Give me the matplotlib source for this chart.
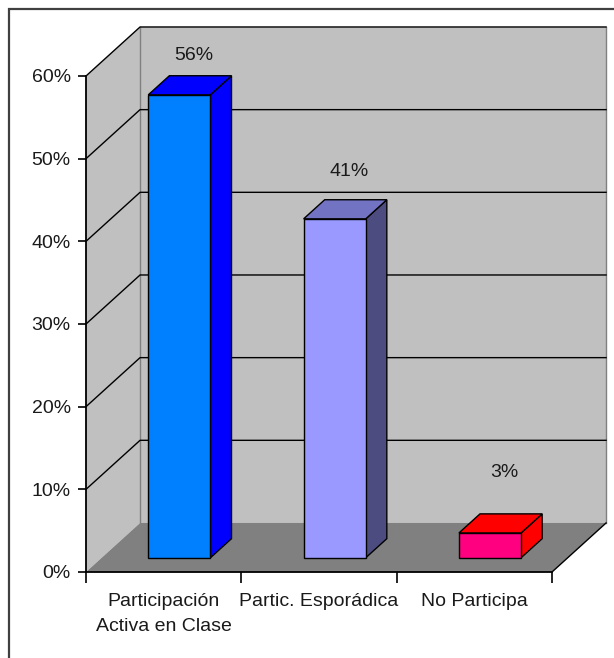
import matplotlib.pyplot as plt
from matplotlib.patches import Polygon, Rectangle
from matplotlib.ticker import FixedLocator, FuncFormatter

plt.rcParams['font.family'] = ['Liberation Sans', 'DejaVu Sans']

# Datos
categorias = ['Participación\nActiva en Clase', 'Partic. Esporádica', 'No Participa']
porcentajes = [56, 41, 3]
colores_frente = ['#0080FF', '#9999FF', '#FF0080']
colores_arriba = ['#0000FF', '#7373C4', '#FF0000']
colores_lado = ['#0000FF', '#4C4C80', '#FF0000']
ticks_y = [0, 10, 20, 30, 40, 50, 60]

# Proyeccion de profundidad (estilo grafico 3D de Excel)
prof_x = 0.348
prof_y = 5.93
f0, f1 = 0.29, 0.68
ancho = 0.40
ymax = 60
n = len(categorias)
# altura de cada etiqueta sobre su barra
sobre_barra = [6.5, 7.4, 9.0]

fig = plt.figure(figsize=(6.14, 6.58), dpi=100)
fig.patch.set_facecolor('white')
ax = fig.add_axes([86 / 614, 86 / 658, 466 / 614, 496 / 658])
ax.set_xlim(0, n)
ax.set_ylim(0, ymax)
ax.set_facecolor('none')

# marco exterior
fig.add_artist(Rectangle((9 / 614, -0.1), 1.2, 1.1 - 9 / 658, transform=fig.transFigure,
                         fill=False, edgecolor='#404040', lw=1.6))

# pared lateral, pared trasera y piso
ax.add_patch(Polygon([(0, 0), (prof_x, prof_y), (prof_x, ymax + prof_y), (0, ymax)],
                     closed=True, facecolor='#C0C0C0', edgecolor='none', clip_on=False, zorder=1))
ax.add_patch(Polygon([(prof_x, prof_y), (n + prof_x, prof_y), (n + prof_x, ymax + prof_y),
                      (prof_x, ymax + prof_y)],
                     closed=True, facecolor='#C0C0C0', edgecolor='none', clip_on=False, zorder=1))
ax.add_patch(Polygon([(0, 0), (n, 0), (n + prof_x, prof_y), (prof_x, prof_y)],
                     closed=True, facecolor='#808080', edgecolor='none', clip_on=False, zorder=1))
ax.plot([prof_x, prof_x], [prof_y, ymax + prof_y], color='#808080', lw=1, clip_on=False, zorder=2)
ax.plot([n + prof_x, n + prof_x], [prof_y, ymax + prof_y], color='#808080', lw=1, clip_on=False, zorder=2)
ax.plot([n, n + prof_x], [0, prof_y], color='black', lw=1, clip_on=False, zorder=2)

# lineas de division
for v in ticks_y[1:]:
    ax.plot([0, prof_x, n + prof_x], [v, v + prof_y, v + prof_y], color='black', lw=1,
            clip_on=False, zorder=2)

# barras
for i, v in enumerate(porcentajes):
    x0 = i + 0.5 - ancho / 2
    x1 = i + 0.5 + ancho / 2
    a0x, a0y = f0 * prof_x, f0 * prof_y
    a1x, a1y = f1 * prof_x, f1 * prof_y
    lado = [(x1 + a0x, a0y), (x1 + a1x, a1y), (x1 + a1x, v + a1y), (x1 + a0x, v + a0y)]
    arriba = [(x0 + a0x, v + a0y), (x1 + a0x, v + a0y), (x1 + a1x, v + a1y), (x0 + a1x, v + a1y)]
    frente = [(x0 + a0x, a0y), (x1 + a0x, a0y), (x1 + a0x, v + a0y), (x0 + a0x, v + a0y)]
    for caras, color in ((lado, colores_lado[i]), (arriba, colores_arriba[i]), (frente, colores_frente[i])):
        ax.add_patch(Polygon(caras, closed=True, facecolor=color, edgecolor='black', lw=1,
                             clip_on=False, zorder=3))
    ax.text(i + 0.5 + 0.55 * prof_x, v + sobre_barra[i], f'{v}%', ha='center', va='center',
            fontsize=14, color='#1a1a1a', zorder=4)

# ejes
for s in ['top', 'right']:
    ax.spines[s].set_visible(False)
for s in ['left', 'bottom']:
    ax.spines[s].set_color('black')
    ax.spines[s].set_linewidth(1.3)
    ax.spines[s].set_zorder(5)

ax.yaxis.set_major_locator(FixedLocator(ticks_y))
ax.yaxis.set_major_formatter(FuncFormatter(lambda v, p: f'{v:.0f}%'))
ax.tick_params(axis='y', direction='out', length=6, width=1.2, pad=5, labelsize=14,
               labelcolor='#1a1a1a')

ax.xaxis.set_major_locator(FixedLocator(list(range(n + 1))))
ax.xaxis.set_major_formatter(FuncFormatter(lambda v, p: ''))
ax.xaxis.set_minor_locator(FixedLocator([i + 0.5 for i in range(n)]))
ax.set_xticklabels(categorias, minor=True)
ax.tick_params(axis='x', which='major', direction='out', length=8, width=1.2)
ax.tick_params(axis='x', which='minor', length=0, pad=15, labelsize=14, labelcolor='#1a1a1a')
for t in ax.xaxis.get_minorticklabels():
    t.set_linespacing(1.6)

fig.savefig('out.png', dpi=100)
